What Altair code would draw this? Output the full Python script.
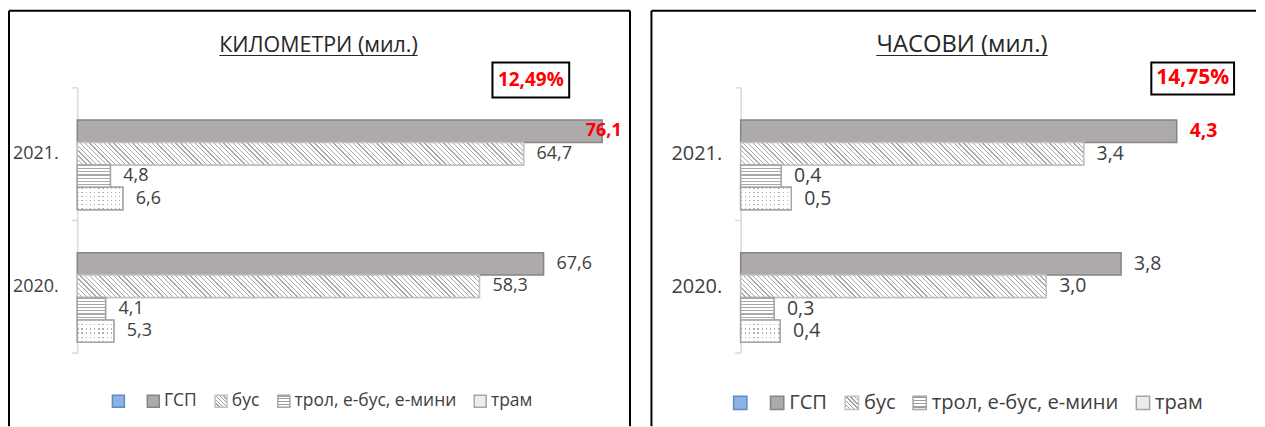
import json
import altair as alt
import pandas as pd

# ---------------- data ----------------
years = ["2021.", "2020."]
series = ["", "ГСП", "бус", "трол, е-бус, е-мини", "трам"]
bar_series = ["ГСП", "бус", "трол, е-бус, е-мини", "трам"]
km_2021 = [76.1, 64.7, 4.8, 6.6]
km_2020 = [67.6, 58.3, 4.1, 5.3]
hours_2021 = [4.31, 3.39, 0.40, 0.50]
hours_2020 = [3.76, 3.02, 0.33, 0.39]
titles = ["КИЛОМЕТРИ (мил.)", "ЧАСОВИ (мил.)"]
changes = ["12,49%", "14,75%"]

# ---------------- styles ----------------
FONT = "Open Sans"
BAR_H = 22.5


def stripe_stops(period, width, line_color, bg_color):
    stops = []
    t = 0.0
    while t < 1.0:
        b = min(t + width, 1.0)
        c = min(t + period, 1.0)
        stops += [
            {"offset": round(t, 5), "color": line_color},
            {"offset": round(b, 5), "color": line_color},
            {"offset": round(b, 5), "color": bg_color},
            {"offset": round(c, 5), "color": bg_color},
        ]
        t += period
    return stops


leg_bus = {"gradient": "linear", "x1": 0, "y1": 1, "x2": 1, "y2": 0,
           "stops": stripe_stops(0.16, 0.06, "#9c9c9c", "#ffffff")}
leg_trol = {"gradient": "linear", "x1": 0, "y1": 0, "x2": 0, "y2": 1,
            "stops": stripe_stops(0.25, 0.1, "#9c9c9c", "#ffffff")}
legend_fill = ["#8db3e2", "#aeaaaa", {"expr": json.dumps(leg_bus)},
               {"expr": json.dumps(leg_trol)}, "#ececec"]
legend_stroke = ["#5b8bc9", "#858585", "#c0c0c0", "#a6a6a6", "#a6a6a6"]


def make_df(v2021, v2020):
    rows = []
    for yr, vals in zip(years, [v2021, v2020]):
        for s, v in zip(bar_series, vals):
            rows.append({"year": yr, "series": s, "value": v})
    return pd.DataFrame(rows)


def panel(df, title, change, p):
    s = p["scale"]
    W, H = p["W"], p["H"]
    X = alt.X("value:Q", axis=None,
              scale=alt.Scale(domain=[0, p["dmax"]], nice=False, zero=True,
                              range=[p["x0"], p["x0"] + p["dmax"] * p["ppu"]]))
    Y = alt.Y("year:N", title=None,
              scale=alt.Scale(domain=years, range=[77, 343], paddingInner=0, paddingOuter=0),
              axis=alt.Axis(orient="left", offset=-p["x0"], domainColor="#d9d9d9", domainWidth=1.5,
                            tickColor="#d9d9d9", tickWidth=1.5, tickSize=6, tickBand="extent",
                            labelFont=FONT, labelFontSize=18 * s, labelColor="#404040",
                            labelPadding=13, grid=False))
    YO = alt.YOffset("series:N", scale=alt.Scale(domain=series, paddingInner=0, paddingOuter=0.456))

    leg = alt.Legend(orient="none", legendX=p["lx"], legendY=383, direction="horizontal", columns=5,
                     title=None, symbolType="square", symbolSize=144 * s * s, symbolStrokeWidth=1.5,
                     labelFont=FONT, labelFontSize=p["legfs"], labelColor="#404040", labelLimit=400,
                     columnPadding=p["colpad"], labelOffset=2, padding=0)

    base = alt.Chart(df).mark_bar(strokeWidth=1.5).encode(
        y=Y, yOffset=YO, x=X,
        fill=alt.Fill("series:N", scale=alt.Scale(domain=series, range=legend_fill), legend=leg),
        stroke=alt.Stroke("series:N", scale=alt.Scale(domain=series, range=legend_stroke), legend=leg),
    )
    layers = [base]

    vals = dict(((r.year, r.series), r.value) for r in df.itertuples())
    trol_grad = {"gradient": "linear", "x1": 0, "y1": 0, "x2": 0, "y2": 1,
                 "stops": stripe_stops(3.2 / BAR_H, 1.2 / BAR_H, "#a8a8a8", "#ffffff")}
    dots_h = {"gradient": "linear", "x1": 0, "y1": 0, "x2": 0, "y2": 1,
              "stops": stripe_stops(4.2 / BAR_H, 1.3 / BAR_H, "rgba(255,255,255,0)", "#ffffff")}
    for yr in years:
        # bus: diagonal hatch
        w = vals[(yr, "бус")] * p["ppu"]
        r = BAR_H / w
        c = (1 + r) / (1 + r * r)
        bus_grad = {"gradient": "linear", "x1": 0, "y1": 1, "x2": c, "y2": 1 - c * r,
                    "stops": stripe_stops(4.8 / (w + BAR_H), 1.3 / (w + BAR_H), "#a8a8a8", "#ffffff")}
        flt = f"datum.year == '{yr}' && datum.series == 'бус'"
        layers.append(alt.Chart(df).transform_filter(flt).mark_bar(
            fill=bus_grad, stroke="#c0c0c0", strokeWidth=1.5).encode(y=Y, yOffset=YO, x=X))
        # trol: horizontal lines
        flt = f"datum.year == '{yr}' && datum.series == 'трол, е-бус, е-мини'"
        layers.append(alt.Chart(df).transform_filter(flt).mark_bar(
            fill=trol_grad, stroke="#a6a6a6", strokeWidth=1.5).encode(y=Y, yOffset=YO, x=X))
        # tram: dots
        w = vals[(yr, "трам")] * p["ppu"]
        dots_v = {"gradient": "linear", "x1": 0, "y1": 0, "x2": 1, "y2": 0,
                  "stops": stripe_stops(4.2 / w, 1.3 / w, "#b0b0b0", "#ffffff")}
        flt = f"datum.year == '{yr}' && datum.series == 'трам'"
        layers.append(alt.Chart(df).transform_filter(flt).mark_bar(
            fill=dots_v, strokeWidth=0).encode(y=Y, yOffset=YO, x=X))
        layers.append(alt.Chart(df).transform_filter(flt).mark_bar(
            fill=dots_h, stroke="#a6a6a6", strokeWidth=1.5).encode(y=Y, yOffset=YO, x=X))

    lab_expr = "replace(format(datum.value, '.1f'), '.', ',')"
    hl = "datum.year == '2021.' && datum.series == 'ГСП'"
    labels = alt.Chart(df).transform_filter(f"!({hl})").transform_calculate(lab=lab_expr).mark_text(
        align="left", baseline="middle", dx=13, font=FONT, fontSize=p["lfs"], color="#404040"
    ).encode(y=Y, yOffset=YO, x=X, text="lab:N")
    hlabel = alt.Chart(df).transform_filter(hl).transform_calculate(lab=lab_expr).mark_text(
        align="left", baseline="middle", dx=p["hdx"], font=FONT, fontSize=p["lfs"], fontWeight="bold",
        color="#ff0000"
    ).encode(y=Y, yOffset=YO, x=X, text="lab:N")
    layers += [labels, hlabel]

    tdf = pd.DataFrame({"t": [title]})
    ttl = alt.Chart(tdf).mark_text(align="center", baseline="alphabetic", font=FONT,
                                   fontSize=21.5 * s, color="#262626").encode(
        x=alt.value(p["tc"]), y=alt.value(41), text="t:N")
    uline = alt.Chart(tdf).mark_rule(color="#262626", strokeWidth=1.2).encode(
        x=alt.value(p["u0"]), x2=alt.value(p["u1"]), y=alt.value(45))
    cdf = pd.DataFrame({"t": [change]})
    box = alt.Chart(cdf).mark_rect(fill="white", stroke="black", strokeWidth=2).encode(
        x=alt.value(p["bx0"]), x2=alt.value(p["bx1"]), y=alt.value(52), y2=alt.value(p["by1"]))
    ctext = alt.Chart(cdf).mark_text(align="center", baseline="middle", font=FONT, fontSize=19 * s,
                                     fontWeight="bold", color="#ff0000").encode(
        x=alt.value((p["bx0"] + p["bx1"]) / 2), y=alt.value((52 + p["by1"]) / 2), text="t:N")
    layers += [ttl, uline, box, ctext]

    # panel border
    layers.append(alt.Chart(tdf).mark_rule(color="black", strokeWidth=2).encode(
        x=alt.value(0), x2=alt.value(W), y=alt.value(0)))
    layers.append(alt.Chart(tdf).mark_rule(color="black", strokeWidth=2).encode(
        x=alt.value(0), y=alt.value(0), y2=alt.value(H)))
    if p["right_border"]:
        layers.append(alt.Chart(tdf).mark_rule(color="black", strokeWidth=2).encode(
            x=alt.value(W), y=alt.value(0), y2=alt.value(H)))

    return alt.layer(*layers).properties(width=W, height=H)


left_p = dict(scale=1.0, W=623, H=417, x0=68.5, ppu=6.92, dmax=80, lx=101, hdx=-16.5, lfs=18,
              legfs=17.5, colpad=14, tc=310.5, u0=211, u1=410, bx0=485, bx1=562, by1=87,
              right_border=True)
right_p = dict(scale=1.11, W=606.5, H=417, x0=89.5, ppu=101.5, dmax=5, lx=79, hdx=13, lfs=19.5,
               legfs=20.2, colpad=14, tc=311.5, u0=225.5, u1=397.5, bx0=501.5, bx1=584.5, by1=84,
               right_border=False)

left = panel(make_df(km_2021, km_2020), titles[0], changes[0], left_p)
right = panel(make_df(hours_2021, hours_2020), titles[1], changes[1], right_p)

chart = alt.hconcat(left, right, spacing=19.5).resolve_scale(
    x="independent", y="independent", yOffset="independent", fill="independent", stroke="independent"
).resolve_legend(fill="independent", stroke="independent").properties(
    padding={"left": 0, "top": -8, "right": 0, "bottom": 0}, background="white"
).configure_view(stroke=None)

chart.save("out.html", embed_options={"renderer": "svg", "actions": False})
